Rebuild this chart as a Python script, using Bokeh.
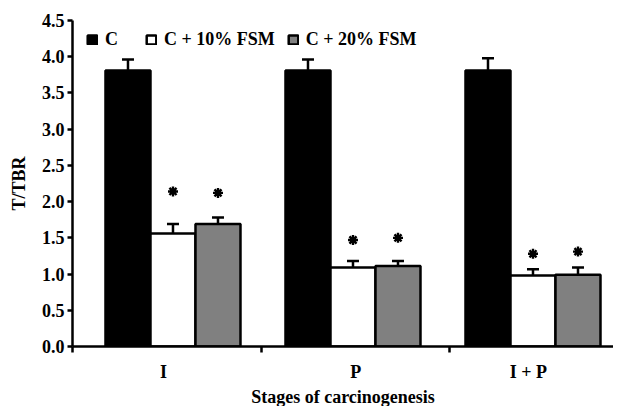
from bokeh.plotting import figure
from bokeh.models import (ColumnDataSource, Whisker, TeeHead, FixedTicker, Range1d,
                          Legend, LegendItem, PrintfTickFormatter)
from bokeh.embed import file_html
from bokeh.resources import INLINE

# ---- data ----
stages = ["I", "P", "I + P"]
series = ["C", "C + 10% FSM", "C + 20% FSM"]
c_mean = [3.81, 3.81, 3.81]
c_err = [0.15, 0.15, 0.17]
fsm10_mean = [1.56, 1.09, 0.98]
fsm10_err = [0.13, 0.09, 0.085]
fsm20_mean = [1.69, 1.11, 0.99]
fsm20_err = [0.09, 0.07, 0.10]
star10_y = [2.14, 1.47, 1.28]
star20_y = [2.12, 1.50, 1.31]
y_ticks = [0.0, 0.5, 1.0, 1.5, 2.0, 2.5, 3.0, 3.5, 4.0, 4.5]

group_centers = [1, 5, 9]
label_pos = [0.79, 5.06, 8.9]
sep_ticks = [-1.233, 2.97, 7.14]
offsets = [-1, 0, 1]
fills = ["#000000", "#ffffff", "#808080"]

FONT = "Liberation Serif"
FS = "18px"

p = figure(frame_width=541, frame_height=326, output_backend="svg", toolbar_location=None,
           x_range=Range1d(-1.233, 10.789), y_range=Range1d(0, 4.5),
           min_border_left=72, min_border_right=0, min_border_top=20,
           min_border_bottom=40)
p.grid.visible = False
p.outline_line_color = None

renderers = []
for means, errs, off, fc in zip([c_mean, fsm10_mean, fsm20_mean],
                                [c_err, fsm10_err, fsm20_err], offsets, fills):
    xs = [g + off for g in group_centers]
    src = ColumnDataSource(dict(x=xs, top=means,
                                upper=[m + e for m, e in zip(means, errs)]))
    w = Whisker(source=src, base="x", lower="top", upper="upper",
                line_color="black", line_width=2.5,
                upper_head=TeeHead(size=12, line_width=2.5, line_color="black"),
                lower_head=None)
    p.add_layout(w)
    r = p.vbar(x="x", top="top", width=1.0, bottom=0, source=src,
               fill_color=fc, line_color="black", line_width=2.5)
    renderers.append(r)

for ys, off in zip([star10_y, star20_y], [0, 1]):
    p.scatter([g + off for g in group_centers], ys, marker="asterisk", size=10,
              line_color="black", line_width=2.4)

legend = Legend(items=[LegendItem(label=s, renderers=[r]) for s, r in zip(series, renderers)],
                orientation="horizontal", location=(14, 296),
                glyph_width=12, glyph_height=11, label_standoff=7, spacing=12,
                label_width=28, padding=4, margin=0,
                background_fill_alpha=0, border_line_color=None,
                label_text_font=FONT, label_text_font_style="bold",
                label_text_font_size=FS, label_text_color="black")
p.add_layout(legend, "center")

# y axis
ya = p.yaxis[0]
ya.ticker = FixedTicker(ticks=y_ticks, minor_ticks=[])
ya.formatter = PrintfTickFormatter(format="%.1f")
ya.axis_label = "T/TBR"
ya.axis_label_text_font = FONT
ya.axis_label_text_font_style = "bold"
ya.axis_label_text_font_size = FS
ya.axis_label_text_color = "black"
ya.axis_label_standoff = 10
ya.major_label_text_font = FONT
ya.major_label_text_font_style = "bold"
ya.major_label_text_font_size = FS
ya.major_label_standoff = 3
ya.axis_line_width = 2.5
ya.major_tick_line_width = 2.5
ya.major_tick_out = 5
ya.major_tick_in = 0
ya.axis_line_color = "black"
ya.major_label_text_color = "black"

# x axis
xa = p.xaxis[0]
xa.ticker = FixedTicker(ticks=label_pos, minor_ticks=sep_ticks)
xa.major_label_overrides = {lp: s for lp, s in zip(label_pos, stages)}
xa.axis_label = "Stages of carcinogenesis"
xa.axis_label_text_font = FONT
xa.axis_label_text_font_style = "bold"
xa.axis_label_text_font_size = FS
xa.axis_label_text_color = "black"
xa.axis_label_standoff = 2
xa.major_label_text_font = FONT
xa.major_label_text_font_style = "bold"
xa.major_label_text_font_size = FS
xa.major_label_standoff = 9
xa.axis_line_width = 2.5
xa.major_tick_out = 0
xa.major_tick_in = 0
xa.minor_tick_out = 6
xa.minor_tick_in = 0
xa.minor_tick_line_width = 2.5
xa.axis_line_color = "black"
xa.major_label_text_color = "black"

open("out.html", "w").write(file_html(p, INLINE))
